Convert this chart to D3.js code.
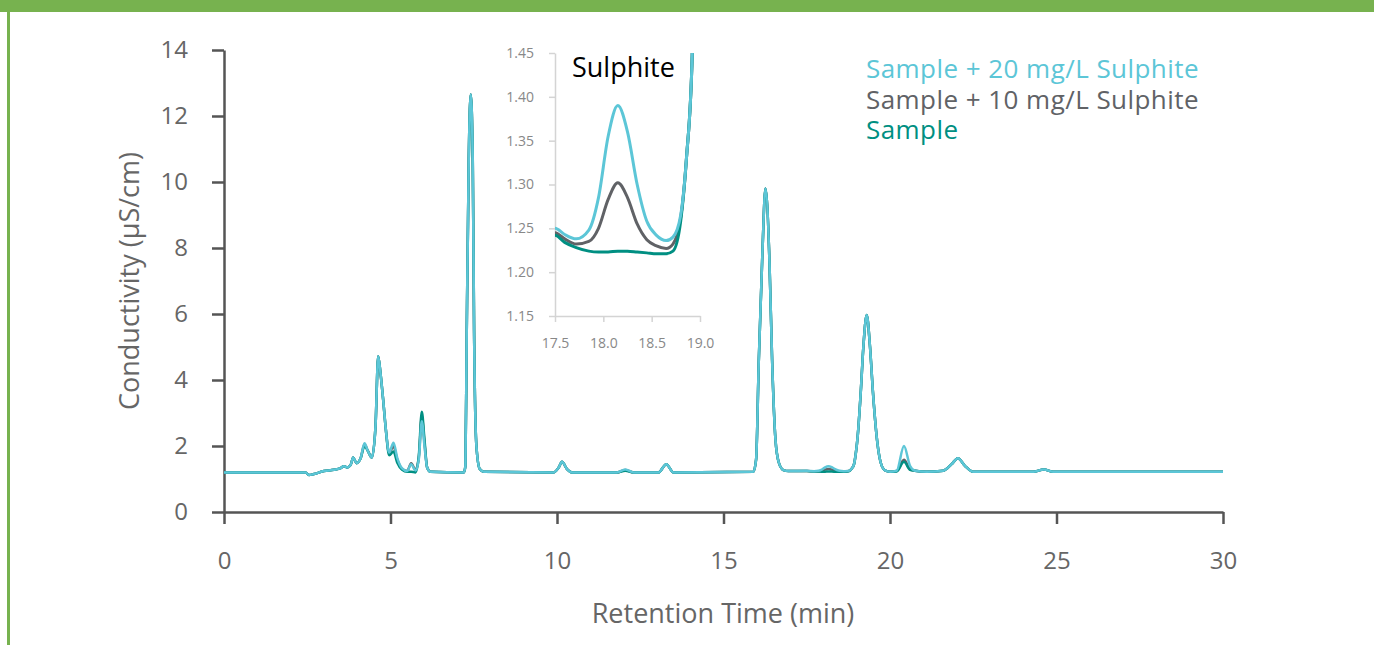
<!DOCTYPE html>
<html>
<head>
<meta charset="utf-8">
<script src="https://cdn.jsdelivr.net/npm/d3@7"></script>
<style>
  body { margin: 0; background: #fff; }
  svg { display: block; }
</style>
</head>
<body>
<div id="chart"></div>
<script>
// retention time (min) shared by all three traces
const retentionTime = [
  0, 2.45, 2.55, 2.7, 3.0, 3.3, 3.5, 3.6, 3.7, 3.8, 3.88, 3.98, 4.1, 4.22, 4.32, 4.44, 4.55, 4.63, 4.7, 4.78, 4.86,
  4.96, 5.09, 5.2, 5.35, 5.5, 5.62, 5.75, 5.85, 5.94, 6.02, 6.1, 6.2,
  7.2, 7.25, 7.29, 7.35, 7.41, 7.47, 7.51, 7.58, 7.68, 7.8,
  9.9, 10.05, 10.15, 10.3, 10.45, 11.8, 12.05, 12.3, 13.05, 13.28, 13.5,
  15.9, 15.98, 16.06, 16.16, 16.26, 16.38, 16.46, 16.56, 16.66, 16.8, 16.95,
  17.5, 17.6, 17.72, 17.85, 17.95, 18.05, 18.15, 18.25, 18.35, 18.45, 18.55, 18.65, 18.72, 18.8, 18.86, 18.92,
  18.97, 19.03, 19.12, 19.2, 19.3, 19.4, 19.49, 19.62, 19.72, 19.85, 20.0,
  20.2, 20.42, 20.6, 20.75, 21.1, 21.6, 21.85, 22.04, 22.25, 22.5, 24.3, 24.62, 24.9, 30
]

// conductivity (µS/cm), Sample + 20 mg/L Sulphite
const sample20 = [
  1.20, 1.20, 1.12, 1.15, 1.24, 1.28, 1.33, 1.39, 1.35, 1.42, 1.65, 1.48, 1.62, 2.08, 1.85, 1.65, 2.6, 4.72, 4.2, 3.4, 2.5,
  1.80, 2.10, 1.65, 1.32, 1.24, 1.45, 1.26, 1.6, 2.75, 2.0, 1.35, 1.22,
  1.20, 1.4, 5.5, 10.7, 12.65, 10.7, 5.5, 2.0, 1.3, 1.22,
  1.20, 1.35, 1.52, 1.3, 1.20, 1.20, 1.29, 1.20, 1.20, 1.45, 1.20,
  1.22, 1.6, 4.6, 7.6, 9.8, 7.6, 4.6, 2.2, 1.5, 1.27, 1.24,
  1.250, 1.243, 1.238, 1.248, 1.285, 1.355, 1.390, 1.360, 1.300, 1.258, 1.242, 1.236, 1.240, 1.265, 1.33, 1.45,
  1.75, 2.3, 3.6, 5.0, 5.97, 5.0, 3.6, 2.1, 1.5, 1.26, 1.22,
  1.25, 2.0, 1.4, 1.25, 1.22, 1.25, 1.45, 1.63, 1.4, 1.22, 1.22, 1.29, 1.22, 1.22
]

// Sample + 10 mg/L Sulphite
const sample10 = [
  1.20, 1.20, 1.12, 1.15, 1.24, 1.28, 1.33, 1.39, 1.35, 1.42, 1.65, 1.48, 1.62, 2.05, 1.85, 1.65, 2.6, 4.72, 4.2, 3.4, 2.5,
  1.78, 2.00, 1.60, 1.30, 1.24, 1.48, 1.28, 1.65, 2.9, 2.1, 1.35, 1.22,
  1.20, 1.4, 5.5, 10.7, 12.65, 10.7, 5.5, 2.0, 1.3, 1.22,
  1.20, 1.35, 1.52, 1.3, 1.20, 1.20, 1.27, 1.20, 1.20, 1.45, 1.20,
  1.22, 1.6, 4.6, 7.6, 9.8, 7.6, 4.6, 2.2, 1.5, 1.27, 1.24,
  1.245, 1.238, 1.232, 1.235, 1.250, 1.283, 1.302, 1.285, 1.255, 1.237, 1.230, 1.227, 1.232, 1.262, 1.33, 1.45,
  1.75, 2.3, 3.6, 5.0, 5.97, 5.0, 3.6, 2.1, 1.5, 1.26, 1.22,
  1.24, 1.58, 1.3, 1.25, 1.22, 1.25, 1.45, 1.63, 1.4, 1.22, 1.22, 1.29, 1.22, 1.22
]

// Sample
const sample = [
  1.20, 1.20, 1.12, 1.15, 1.24, 1.28, 1.33, 1.39, 1.35, 1.42, 1.65, 1.48, 1.62, 2.0, 1.85, 1.65, 2.6, 4.72, 4.2, 3.4, 2.5,
  1.72, 1.83, 1.50, 1.28, 1.22, 1.22, 1.20, 1.7, 3.04, 2.2, 1.35, 1.22,
  1.20, 1.4, 5.5, 10.7, 12.65, 10.7, 5.5, 2.0, 1.3, 1.22,
  1.20, 1.35, 1.52, 1.3, 1.20, 1.20, 1.25, 1.20, 1.20, 1.45, 1.20,
  1.22, 1.6, 4.6, 7.6, 9.8, 7.6, 4.6, 2.2, 1.5, 1.27, 1.24,
  1.242, 1.234, 1.228, 1.224, 1.223, 1.223, 1.224, 1.224, 1.223, 1.222, 1.221, 1.221, 1.224, 1.258, 1.33, 1.45,
  1.75, 2.3, 3.6, 5.0, 5.97, 5.0, 3.6, 2.1, 1.5, 1.26, 1.22,
  1.23, 1.52, 1.28, 1.25, 1.22, 1.25, 1.45, 1.63, 1.4, 1.22, 1.22, 1.29, 1.22, 1.22
]

const seriesNames = ["Sample + 20 mg/L Sulphite", "Sample + 10 mg/L Sulphite", "Sample"]
const seriesColors = ["#5cc6d7", "#606266", "#008f82"]

const xTicks = [0, 5, 10, 15, 20, 25, 30]
const yTicks = [0, 2, 4, 6, 8, 10, 12, 14]
const insetXTicks = [17.5, 18.0, 18.5, 19.0]
const insetYTicks = [1.15, 1.20, 1.25, 1.30, 1.35, 1.40, 1.45]

const width = 1374
const height = 645
const fontFamily = "'Open Sans', 'Noto Sans', sans-serif"
const axisColor = "#555"
const labelColor = "#666"

const series = [sample10, sample, sample20].map(vals => vals.map((v, i) => ({ t: retentionTime[i], v })))
const seriesOrder = [1, 2, 0] // gray under teal under blue

const svg = d3.create("svg")
  .attr("width", width)
  .attr("height", height)
  .style("font-family", fontFamily)

// green frame
svg.append("rect").attr("x", 0).attr("y", 0).attr("width", width).attr("height", 12).attr("fill", "#77b24f")
svg.append("rect").attr("x", 7).attr("y", 0).attr("width", 3).attr("height", height).attr("fill", "#77b24f")

const x = d3.scaleLinear().domain([0, 30]).range([224, 1223])
const y = d3.scaleLinear().domain([0, 14]).range([512, 50])

const xAxis = g => g
  .attr("transform", `translate(0,${y(0)})`)
  .call(d3.axisBottom(x).tickValues(xTicks).tickSize(12).tickPadding(28).tickSizeOuter(0))
  .call(g => g.select(".domain").attr("stroke", axisColor).attr("stroke-width", 2.5))
  .call(g => g.selectAll(".tick line").attr("stroke", axisColor).attr("stroke-width", 2.5))
  .call(g => g.selectAll(".tick text").attr("fill", labelColor).style("font-size", "24px").style("font-family", fontFamily))

const yAxis = g => g
  .attr("transform", `translate(${x(0)},0)`)
  .call(d3.axisLeft(y).tickValues(yTicks).tickSize(12).tickPadding(24).tickSizeOuter(0))
  .call(g => g.select(".domain").attr("stroke", axisColor).attr("stroke-width", 2.5))
  .call(g => g.selectAll(".tick line").attr("stroke", axisColor).attr("stroke-width", 2.5))
  .call(g => g.selectAll(".tick text").attr("fill", labelColor).style("font-size", "24px").style("font-family", fontFamily))

svg.append("g").call(yAxis)
svg.append("g").call(xAxis)

svg.append("text")
  .attr("transform", `translate(130,281) rotate(-90)`)
  .attr("text-anchor", "middle")
  .attr("dy", "0.35em")
  .attr("fill", labelColor)
  .style("font-size", "27px")
  .text("Conductivity (µS/cm)")

svg.append("text")
  .attr("x", 723)
  .attr("y", 623)
  .attr("text-anchor", "middle")
  .attr("fill", labelColor)
  .style("font-size", "27px")
  .text("Retention Time (min)")

const line = d3.line()
  .x(d => x(d.t))
  .y(d => y(d.v))
  .curve(d3.curveMonotoneX)

const gLines = svg.append("g")
seriesOrder.forEach((k, i) => {
  gLines.append("path")
    .datum(series[i])
    .attr("fill", "none")
    .attr("stroke", seriesColors[k])
    .attr("stroke-width", 2.5)
    .attr("stroke-linejoin", "round")
    .attr("d", line)
})

// legend
svg.append("g")
  .selectAll("text")
  .data(seriesNames)
  .join("text")
  .attr("x", 866)
  .attr("y", (d, i) => 78 + i * 30.5)
  .attr("fill", (d, i) => seriesColors[i])
  .style("font-size", "26px")
  .style("letter-spacing", "0.45px")
  .text(d => d)

// inset zoom on the sulphite peak
const ix = d3.scaleLinear().domain([17.5, 19.0]).range([555, 700])
const iy = d3.scaleLinear().domain([1.15, 1.45]).range([316, 53])
const insetColor = "#d4d4d4"

const inset = svg.append("g")

inset.append("g")
  .attr("transform", `translate(0,${iy(1.15)})`)
  .call(d3.axisBottom(ix).tickValues(insetXTicks).tickFormat(d3.format(".1f")).tickSize(6).tickPadding(16).tickSizeOuter(0))
  .call(g => g.select(".domain").attr("stroke", insetColor).attr("stroke-width", 1.5))
  .call(g => g.selectAll(".tick line").attr("stroke", insetColor).attr("stroke-width", 1.5))
  .call(g => g.selectAll(".tick text").attr("fill", "#888").style("font-size", "14px").style("font-family", fontFamily))

inset.append("g")
  .attr("transform", `translate(${ix(17.5)},0)`)
  .call(d3.axisLeft(iy).tickValues(insetYTicks).tickFormat(d3.format(".2f")).tickSize(6).tickPadding(15).tickSizeOuter(0))
  .call(g => g.select(".domain").attr("stroke", insetColor).attr("stroke-width", 1.5))
  .call(g => g.selectAll(".tick line").attr("stroke", insetColor).attr("stroke-width", 1.5))
  .call(g => g.selectAll(".tick text").attr("fill", "#888").style("font-size", "14px").style("font-family", fontFamily))

svg.append("clipPath")
  .attr("id", "insetClip")
  .append("rect")
  .attr("x", ix(17.5))
  .attr("y", iy(1.45))
  .attr("width", ix(19.0) - ix(17.5))
  .attr("height", iy(1.15) - iy(1.45))

const insetLine = d3.line()
  .x(d => ix(d.t))
  .y(d => iy(d.v))
  .curve(d3.curveMonotoneX)

const gInset = inset.append("g").attr("clip-path", "url(#insetClip)")
seriesOrder.forEach((k, i) => {
  gInset.append("path")
    .datum(series[i].filter(d => d.t >= 16.9 && d.t <= 19.1))
    .attr("fill", "none")
    .attr("stroke", seriesColors[k])
    .attr("stroke-width", 3)
    .attr("d", insetLine)
})

inset.append("text")
  .attr("x", 572)
  .attr("y", 77)
  .attr("fill", "#000")
  .style("font-size", "27px")
  .style("font-family", fontFamily)
  .text("Sulphite")

document.getElementById("chart").appendChild(svg.node())
</script>
</body>
</html>
